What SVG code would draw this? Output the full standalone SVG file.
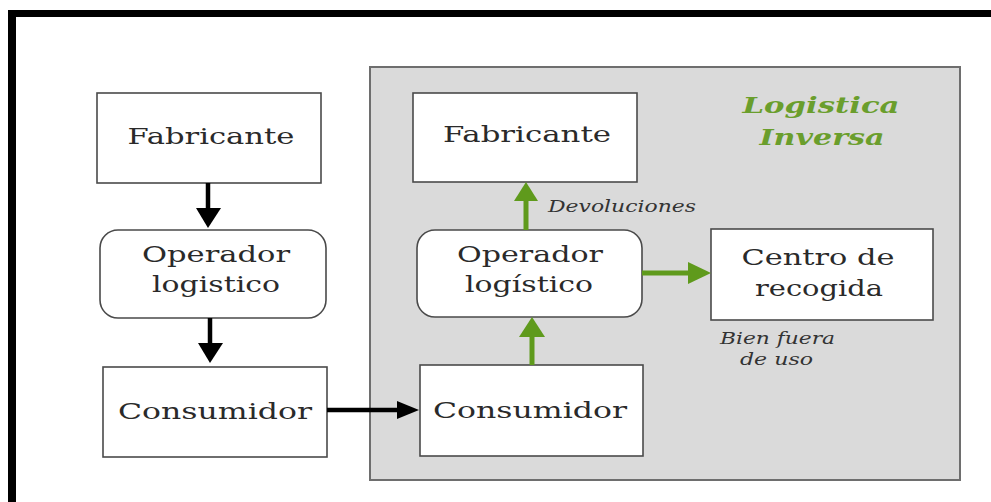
<svg xmlns="http://www.w3.org/2000/svg" width="991" height="502" viewBox="0 0 991 502">
  <style>
    .box { fill: #ffffff; stroke: #4a4a4a; stroke-width: 1.6; }
    .panel { fill: #dadada; stroke: #6e6e6e; stroke-width: 2; }
    .lbl { font-family: "DejaVu Serif", "Liberation Serif", serif; font-size: 23px; fill: #2a2a2a; }
    .note { font-family: "DejaVu Serif", "Liberation Serif", serif; font-style: italic; font-size: 16px; fill: #333333; }
    .title { font-family: "DejaVu Serif", "Liberation Serif", serif; font-style: italic; font-weight: bold; font-size: 22px; fill: #6a9e2c; }
    .blk { stroke: #000000; stroke-width: 4.5; fill: none; }
    .grn { stroke: #5f9a1c; stroke-width: 5; fill: none; }
    .hb { fill: #000000; }
    .hg { fill: #5f9a1c; }
  </style>

  <rect x="0" y="0" width="991" height="502" fill="#ffffff"/>

  <!-- outer frame -->
  <rect x="8" y="10" width="983" height="7" fill="#000000"/>
  <rect x="8" y="10" width="8" height="492" fill="#000000"/>

  <!-- reverse logistics panel -->
  <g id="panel">
    <rect class="panel" x="370" y="67" width="590" height="413"/>
    <text class="title" x="821" y="113" text-anchor="middle" textLength="157" lengthAdjust="spacingAndGlyphs">Logistica</text>
    <text class="title" x="822" y="145" text-anchor="middle" textLength="125" lengthAdjust="spacingAndGlyphs">Inversa</text>
  </g>

  <!-- forward chain -->
  <g id="fabricante-1">
    <rect class="box" x="97" y="93" width="224" height="90"/>
    <text class="lbl" x="211" y="144" text-anchor="middle" textLength="167" lengthAdjust="spacingAndGlyphs">Fabricante</text>
  </g>
  <g id="operador-1">
    <rect class="box" x="100" y="230" width="226" height="88" rx="18"/>
    <text class="lbl" x="216" y="262" text-anchor="middle" textLength="148" lengthAdjust="spacingAndGlyphs">Operador</text>
    <text class="lbl" x="216" y="292" text-anchor="middle" textLength="128" lengthAdjust="spacingAndGlyphs">logistico</text>
  </g>
  <g id="consumidor-1">
    <rect class="box" x="103" y="367" width="224" height="90"/>
    <text class="lbl" x="215" y="419" text-anchor="middle" textLength="194" lengthAdjust="spacingAndGlyphs">Consumidor</text>
  </g>

  <!-- reverse chain -->
  <g id="fabricante-2">
    <rect class="box" x="413" y="93" width="224" height="89"/>
    <text class="lbl" x="527" y="142" text-anchor="middle" textLength="168" lengthAdjust="spacingAndGlyphs">Fabricante</text>
  </g>
  <g id="operador-2">
    <rect class="box" x="417" y="230" width="225" height="87" rx="18"/>
    <text class="lbl" x="530" y="262" text-anchor="middle" textLength="146" lengthAdjust="spacingAndGlyphs">Operador</text>
    <text class="lbl" x="529" y="292" text-anchor="middle" textLength="128" lengthAdjust="spacingAndGlyphs">logístico</text>
  </g>
  <g id="consumidor-2">
    <rect class="box" x="420" y="365" width="223" height="91"/>
    <text class="lbl" x="530" y="418" text-anchor="middle" textLength="194" lengthAdjust="spacingAndGlyphs">Consumidor</text>
  </g>
  <g id="centro">
    <rect class="box" x="711" y="229" width="222" height="91"/>
    <text class="lbl" x="818" y="265" text-anchor="middle" textLength="153" lengthAdjust="spacingAndGlyphs">Centro de</text>
    <text class="lbl" x="819" y="296" text-anchor="middle" textLength="128" lengthAdjust="spacingAndGlyphs">recogida</text>
  </g>

  <!-- connectors -->
  <g id="connectors">
    <!-- forward flow (black) -->
    <line class="blk" x1="208" y1="183" x2="208" y2="210"/>
    <polygon class="hb" points="196,208 221,208 208,228"/>
    <line class="blk" x1="210" y1="318" x2="210" y2="345"/>
    <polygon class="hb" points="198,343 223,343 210,363"/>
    <line class="blk" x1="327" y1="410" x2="399" y2="410"/>
    <polygon class="hb" points="397,401 397,419 419,410"/>

    <!-- return flow (green) -->
    <line class="grn" x1="526" y1="230" x2="526" y2="198"/>
    <polygon class="hg" points="514,201 538,201 526,182"/>
    <line class="grn" x1="532" y1="365" x2="532" y2="334"/>
    <polygon class="hg" points="519,337 545,337 532,317"/>
    <line class="grn" x1="642" y1="273" x2="690" y2="273"/>
    <polygon class="hg" points="688,262 688,284 711,273"/>

    <text class="note" x="548" y="212" textLength="148" lengthAdjust="spacingAndGlyphs">Devoluciones</text>
    <text class="note" x="720" y="344" textLength="115" lengthAdjust="spacingAndGlyphs">Bien fuera</text>
    <text class="note" x="740" y="365" textLength="73" lengthAdjust="spacingAndGlyphs">de uso</text>
  </g>
</svg>
